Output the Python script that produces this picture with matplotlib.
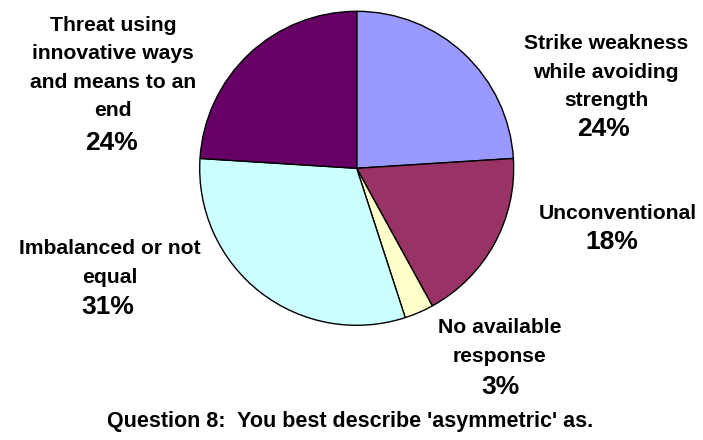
import matplotlib
matplotlib.use("Agg")
import matplotlib.pyplot as plt

categories = ["Strike weakness\nwhile avoiding\nstrength", "Unconventional",
              "No available\nresponse", "Imbalanced or not\nequal",
              "Threat using\ninnovative ways\nand means to an\nend"]
values = [24, 18, 3, 31, 24]
colors = ["#9999FF", "#993366", "#FFFFCC", "#CCFFFF", "#660066"]
title = "Question 8:  You best describe 'asymmetric' as."

W, H = 703, 440
fig = plt.figure(figsize=(W / 100, H / 100), dpi=100)
plt.rcParams['font.family'] = ['Liberation Sans', 'DejaVu Sans']

cx, cy, r = 356.7, 168.3, 157.0
ax = fig.add_axes([(cx - r) / W, 1 - (cy + r) / H, 2 * r / W, 2 * r / H])
ax.pie(values, colors=colors, startangle=90, counterclock=False,
       wedgeprops=dict(edgecolor="black", linewidth=1.0))
ax.set_xlim(-1, 1)
ax.set_ylim(-1, 1)
ax.set_aspect("equal")
ax.axis("off")

# label placements (pixel centers): name block center, percentage center
label_pos = [
    ((606, 72), (603, 129)),
    ((618, 213), (612, 242)),
    ((500, 342), (500, 387)),
    ((110, 263), (108, 307)),
    ((113, 68), (111, 143)),
]

def fx(x):
    return x / W

def fy(y):
    return 1 - y / H

for name, v, (npos, ppos) in zip(categories, values, label_pos):
    fig.text(fx(npos[0]), fy(npos[1]), name, ha="center", va="center",
             fontsize=15.2, fontweight="bold", linespacing=1.63)
    fig.text(fx(ppos[0]), fy(ppos[1]), f"{v}%", ha="center", va="center",
             fontsize=19, fontweight="bold")

fig.text(fx(350), fy(421), title, ha="center", va="center",
         fontsize=15.5, fontweight="bold")

fig.savefig("out.png", dpi=100)
